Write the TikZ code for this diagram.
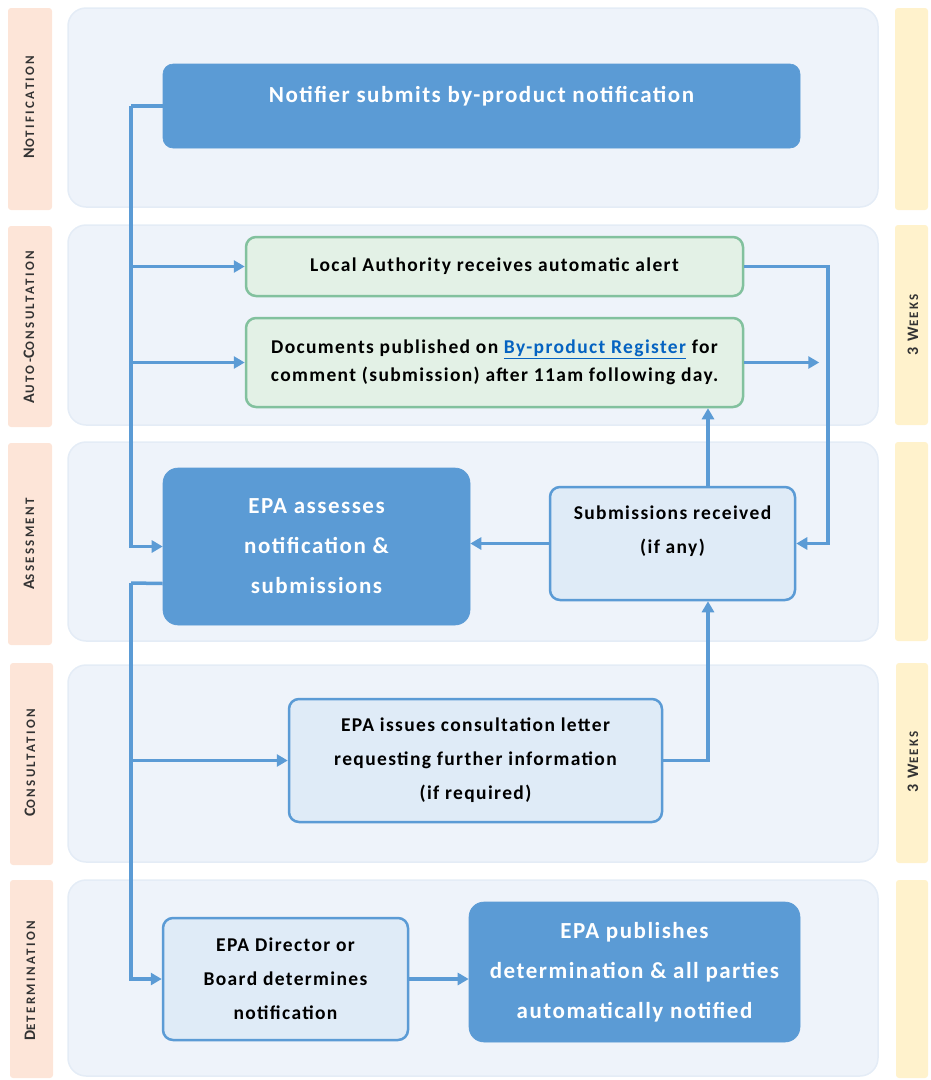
\documentclass[tikz,border=0pt]{standalone}
\usepackage{fontspec}
\setmainfont{Carlito}
\usepackage{tikz}
\usetikzlibrary{arrows}
\usetikzlibrary{arrows.meta}
\usetikzlibrary{calc}
\usetikzlibrary{positioning}

\definecolor{laneblue}{HTML}{EEF3FA}
\definecolor{laneedge}{HTML}{E4ECF6}
\definecolor{boxblue}{HTML}{5B9BD5}
\definecolor{paleblue}{HTML}{DFEBF7}
\definecolor{palegreen}{HTML}{E3F1E6}
\definecolor{greenedge}{HTML}{82C19E}
\definecolor{phasepink}{HTML}{FDE5D8}
\definecolor{weekyellow}{HTML}{FFF2CC}
\definecolor{linkblue}{HTML}{0563C1}

% small caps by hand: big initial, smaller rest, spaced out
\newcommand{\phasename}[2]{{\fontsize{16}{16}\selectfont\addfontfeatures{LetterSpace=18}#1}{\fontsize{13}{13}\selectfont\addfontfeatures{LetterSpace=18}#2}}

\begin{document}
\begin{tikzpicture}[x=1pt,y=-1pt,>={Triangle[length=11pt,width=12pt]},semithick]
  \tikzstyle{lane}=[fill=laneblue,draw=laneedge,line width=1.5pt,rounded corners=18pt]
  \tikzstyle{phase}=[fill=phasepink,draw=none,rounded corners=3pt]
  \tikzstyle{weeks}=[fill=weekyellow,draw=none,rounded corners=3pt]
  \tikzstyle{phaselabel}=[rotate=90,text=black!80,font=\bfseries]
  \tikzstyle{darkbox}=[fill=boxblue,draw=boxblue,text=white,rounded corners=10pt,align=center,font=\bfseries\fontsize{23}{40}\selectfont\addfontfeatures{LetterSpace=6.5}]
  \tikzstyle{lightbox}=[fill=paleblue,draw=boxblue,line width=2.5pt,rounded corners=10pt,align=center,text=black,font=\bfseries\fontsize{19.5}{34}\selectfont\addfontfeatures{LetterSpace=7}]
  \tikzstyle{greenbox}=[lightbox,fill=palegreen,draw=greenedge]
  \tikzstyle{boxtext}=[align=center,text=black,font=\bfseries\fontsize{19.5}{34}\selectfont\addfontfeatures{LetterSpace=7}]
  \tikzstyle{flow}=[->,draw=boxblue,line width=3.5pt]

  \useasboundingbox (0,0) rectangle (930,1080);

  % swim lanes
  \draw[lane] (68,8) rectangle (878,207);
  \draw[lane] (68,225) rectangle (878,425);
  \draw[lane] (68,442) rectangle (878,641);
  \draw[lane] (68,665) rectangle (878,862);
  \draw[lane] (68,880) rectangle (878,1076);

  % phase strips and time strips
  \fill[phase] (8,8) rectangle (52,210);
  \fill[phase] (8,226) rectangle (52,427);
  \fill[phase] (8,443) rectangle (52,645);
  \fill[phase] (10,663) rectangle (53,865);
  \fill[phase] (10,880) rectangle (53,1078);
  \fill[weeks] (895,8) rectangle (928,210);
  \fill[weeks] (895,225) rectangle (928,425);
  \fill[weeks] (895,442) rectangle (928,641);
  \fill[weeks] (896,663) rectangle (928,863);
  \fill[weeks] (896,880) rectangle (928,1078);

  \node[phaselabel] (p1) at (29,107) {\phasename{N}{OTIFICATION}};
  \node[phaselabel] (p2) at (29,327) {\phasename{A}{UTO-}\phasename{C}{ONSULTATION}};
  \node[phaselabel] (p3) at (29,544) {\phasename{A}{SSESSMENT}};
  \node[phaselabel] (p4) at (30,763) {\phasename{C}{ONSULTATION}};
  \node[phaselabel] (p5) at (30,981) {\phasename{D}{ETERMINATION}};
  \node[phaselabel] (w1) at (913,325) {\phasename{3 W}{EEKS}};
  \node[phaselabel] (w2) at (913,762) {\phasename{3 W}{EEKS}};

  % process steps
  \node[darkbox,minimum width=637,minimum height=84,text height=15pt,text depth=23pt] (notify) at (481.5,106) {Notifier submits by-product notification};
  \node[greenbox,minimum width=497,minimum height=59] (alert) at (494.5,266.5) {Local Authority receives automatic alert};
  \node[greenbox,minimum width=497,minimum height=89] (publish) at (494.5,362.5) {Documents published on {\color{linkblue}\underline{By-product Register}} for\\[-6pt]comment (submission) after 11am following day.};
  \node[darkbox,minimum width=307,minimum height=157,rounded corners=15pt] (assess) at (316.5,546.5) {EPA assesses\\notification \&\\submissions};
  \node[lightbox,minimum width=245,minimum height=113] (submit) at (672.5,543.5) {};
  \node[boxtext] (submit text) at ($(submit)+(0,-12)$) {Submissions received\\(if any)};
  \node[lightbox,minimum width=373,minimum height=123] (consult) at (475.5,760.5) {EPA issues consultation letter\\requesting further information\\(if required)};
  \node[lightbox,minimum width=245,minimum height=122] (decide) at (285.5,979) {EPA Director or\\Board determines\\notification};
  \node[darkbox,minimum width=331,minimum height=140,rounded corners=15pt] (notified) at (634.5,972) {EPA publishes\\determination \& all parties\\automatically notified};

  % connectors
  \coordinate (bus top) at (131,106);
  \coordinate (bus low) at (131,583);
  \coordinate (link) at (708,0);
  \coordinate (loop) at (828,0);

  \draw[flow,-] (notify.west) -- (bus top);
  \draw[flow] (bus top) |- (alert.west);
  \draw[flow] (bus top) |- (publish.west);
  \draw[flow] (bus top) |- (assess.west);
  \draw[flow,-] ($(assess.west)+(0,37)$) -- (bus low);
  \draw[flow] (bus low) |- (consult.west);
  \draw[flow] (bus low) |- (decide.west);

  \draw[flow] (alert.east) -| (loop |- submit.east) -- (submit.east);
  \draw[flow] (publish.east) -- ++(75,0);
  \draw[flow] (submit.north -| link) -- (publish.south -| link);
  \draw[flow] (submit.west) -- (submit.west -| assess.east);
  \draw[flow] (consult.east) -| (submit.south -| link);
  \draw[flow] (decide.east) -- (decide.east -| notified.west);
\end{tikzpicture}
\end{document}
